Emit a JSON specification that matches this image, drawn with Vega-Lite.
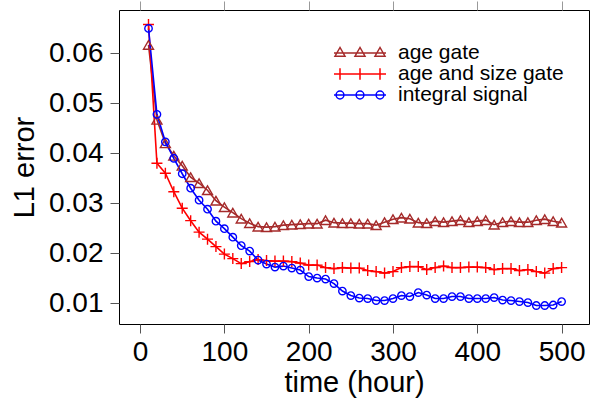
{
  "$schema": "https://vega.github.io/schema/vega-lite/v6.json",
  "width": 470,
  "height": 314,
  "autosize": "none",
  "padding": {"left": 119, "top": 10, "right": 2, "bottom": 76},
  "background": "white",
  "config": {
    "view": {"stroke": "#000", "strokeWidth": 1},
    "font": "Liberation Sans",
    "axis": {
      "grid": false, "domain": false, "tickColor": "#555", "tickSize": 9, "tickWidth": 1,
      "labelFont": "Liberation Sans", "labelFontSize": 28, "labelColor": "#000",
      "titleFont": "Liberation Sans", "titleFontSize": 29, "titleFontWeight": "normal", "titleColor": "#000"
    },
    "legend": {
      "labelFont": "Liberation Sans", "labelFontSize": 21, "labelColor": "#000", "labelLimit": 400
    }
  },
  "data": {"values": [
    {"t": 10, "age gate": 0.0617, "age and size gate": 0.0658, "integral signal": 0.0650},
    {"t": 20, "age gate": 0.0467, "age and size gate": 0.0380, "integral signal": 0.0478},
    {"t": 30, "age gate": 0.0420, "age and size gate": 0.0360, "integral signal": 0.0423},
    {"t": 40, "age gate": 0.0395, "age and size gate": 0.0323, "integral signal": 0.0390},
    {"t": 50, "age gate": 0.0375, "age and size gate": 0.0290, "integral signal": 0.0359},
    {"t": 60, "age gate": 0.0352, "age and size gate": 0.0265, "integral signal": 0.0330},
    {"t": 70, "age gate": 0.0340, "age and size gate": 0.0242, "integral signal": 0.0306},
    {"t": 80, "age gate": 0.0326, "age and size gate": 0.0228, "integral signal": 0.0288},
    {"t": 90, "age gate": 0.0305, "age and size gate": 0.0213, "integral signal": 0.0264},
    {"t": 100, "age gate": 0.0292, "age and size gate": 0.0198, "integral signal": 0.0249},
    {"t": 110, "age gate": 0.0281, "age and size gate": 0.0189, "integral signal": 0.0232},
    {"t": 120, "age gate": 0.0269, "age and size gate": 0.0179, "integral signal": 0.0215},
    {"t": 130, "age gate": 0.0260, "age and size gate": 0.0183, "integral signal": 0.0204},
    {"t": 140, "age gate": 0.0253, "age and size gate": 0.0187, "integral signal": 0.0186},
    {"t": 150, "age gate": 0.0252, "age and size gate": 0.0185, "integral signal": 0.0178},
    {"t": 160, "age gate": 0.0253, "age and size gate": 0.0184, "integral signal": 0.0172},
    {"t": 170, "age gate": 0.0256, "age and size gate": 0.0184, "integral signal": 0.0174},
    {"t": 180, "age gate": 0.0257, "age and size gate": 0.0183, "integral signal": 0.0170},
    {"t": 190, "age gate": 0.0258, "age and size gate": 0.0180, "integral signal": 0.0166},
    {"t": 200, "age gate": 0.0259, "age and size gate": 0.0176, "integral signal": 0.0153},
    {"t": 210, "age gate": 0.0259, "age and size gate": 0.0176, "integral signal": 0.0150},
    {"t": 220, "age gate": 0.0266, "age and size gate": 0.0171, "integral signal": 0.0148},
    {"t": 230, "age gate": 0.0261, "age and size gate": 0.0169, "integral signal": 0.0139},
    {"t": 240, "age gate": 0.0260, "age and size gate": 0.0171, "integral signal": 0.0124},
    {"t": 250, "age gate": 0.0260, "age and size gate": 0.0170, "integral signal": 0.0115},
    {"t": 260, "age gate": 0.0259, "age and size gate": 0.0170, "integral signal": 0.0110},
    {"t": 270, "age gate": 0.0259, "age and size gate": 0.0165, "integral signal": 0.0109},
    {"t": 280, "age gate": 0.0256, "age and size gate": 0.0163, "integral signal": 0.0105},
    {"t": 290, "age gate": 0.0262, "age and size gate": 0.0160, "integral signal": 0.0105},
    {"t": 300, "age gate": 0.0268, "age and size gate": 0.0163, "integral signal": 0.0109},
    {"t": 310, "age gate": 0.0271, "age and size gate": 0.0171, "integral signal": 0.0115},
    {"t": 320, "age gate": 0.0269, "age and size gate": 0.0173, "integral signal": 0.0113},
    {"t": 330, "age gate": 0.0261, "age and size gate": 0.0173, "integral signal": 0.0121},
    {"t": 340, "age gate": 0.0260, "age and size gate": 0.0167, "integral signal": 0.0116},
    {"t": 350, "age gate": 0.0264, "age and size gate": 0.0171, "integral signal": 0.0109},
    {"t": 360, "age gate": 0.0262, "age and size gate": 0.0174, "integral signal": 0.0109},
    {"t": 370, "age gate": 0.0264, "age and size gate": 0.0171, "integral signal": 0.0113},
    {"t": 380, "age gate": 0.0266, "age and size gate": 0.0171, "integral signal": 0.0113},
    {"t": 390, "age gate": 0.0262, "age and size gate": 0.0172, "integral signal": 0.0109},
    {"t": 400, "age gate": 0.0264, "age and size gate": 0.0172, "integral signal": 0.0109},
    {"t": 410, "age gate": 0.0266, "age and size gate": 0.0171, "integral signal": 0.0109},
    {"t": 420, "age gate": 0.0257, "age and size gate": 0.0167, "integral signal": 0.0111},
    {"t": 430, "age gate": 0.0262, "age and size gate": 0.0169, "integral signal": 0.0106},
    {"t": 440, "age gate": 0.0264, "age and size gate": 0.0169, "integral signal": 0.0105},
    {"t": 450, "age gate": 0.0262, "age and size gate": 0.0165, "integral signal": 0.0103},
    {"t": 460, "age gate": 0.0262, "age and size gate": 0.0167, "integral signal": 0.0101},
    {"t": 470, "age gate": 0.0266, "age and size gate": 0.0163, "integral signal": 0.0095},
    {"t": 480, "age gate": 0.0268, "age and size gate": 0.0160, "integral signal": 0.0095},
    {"t": 490, "age gate": 0.0264, "age and size gate": 0.0169, "integral signal": 0.0096},
    {"t": 500, "age gate": 0.0261, "age and size gate": 0.0171, "integral signal": 0.0103}
  ]},
  "transform": [{"fold": ["age gate", "age and size gate", "integral signal"], "as": ["series", "value"]}],
  "resolve": {"axis": {"x": "independent"}},
  "layer": [
    {
      "mark": {"type": "line", "strokeWidth": 1.6},
      "encoding": {
        "x": {"field": "t", "type": "quantitative", "scale": {"domain": [-25, 532.5], "nice": false, "zero": false},
          "axis": {"orient": "bottom", "title": "time (hour)", "values": [0, 100, 200, 300, 400, 500],
            "labelBaseline": "alphabetic", "labelPadding": 27, "labelFlush": false, "labelOverlap": false,
            "titleX": 235, "titleY": 67, "titleBaseline": "alphabetic", "titleAlign": "center"}},
        "y": {"field": "value", "type": "quantitative", "scale": {"domain": [0.0058, 0.0687], "nice": false, "zero": false},
          "axis": {"title": "L1 error", "values": [0.01, 0.02, 0.03, 0.04, 0.05, 0.06], "format": ".2f",
            "labelPadding": 7, "labelFlush": false, "labelOverlap": false,
            "titleX": -86, "titleY": 157, "titleAngle": -90, "titleBaseline": "alphabetic", "titleAlign": "center"}},
        "color": {"field": "series", "type": "nominal",
          "scale": {"domain": ["integral signal", "age and size gate", "age gate"], "range": ["#0000FF", "#FF0000", "#A52A2A"]},
          "legend": null}
      }
    },
    {
      "transform": [{"filter": "datum.series == 'age gate'"}],
      "mark": {"type": "point", "shape": "triangle-up", "filled": false, "size": 100, "strokeWidth": 1.4, "color": "#A52A2A", "opacity": 1},
      "encoding": {
        "x": {"field": "t", "type": "quantitative",
          "axis": {"orient": "top", "labels": false, "title": null, "values": [0, 100, 200, 300, 400, 500], "tickColor": "#999"}},
        "y": {"field": "value", "type": "quantitative"}
      }
    },
    {
      "transform": [{"filter": "datum.series == 'age and size gate'"}],
      "mark": {"type": "point", "shape": "M-1,0L1,0M0,-1L0,1", "filled": false, "size": 121, "strokeWidth": 1.4, "color": "#FF0000", "opacity": 1},
      "encoding": {
        "x": {"field": "t", "type": "quantitative", "axis": null},
        "y": {"field": "value", "type": "quantitative"}
      }
    },
    {
      "transform": [{"filter": "datum.series == 'integral signal'"}],
      "mark": {"type": "point", "shape": "circle", "filled": false, "size": 55, "strokeWidth": 1.4, "color": "#0000FF", "opacity": 1},
      "encoding": {
        "x": {"field": "t", "type": "quantitative", "axis": null},
        "y": {"field": "value", "type": "quantitative"}
      }
    },
    {
      "transform": [{"filter": "datum.t < 0"}],
      "mark": {"type": "point", "filled": false, "strokeWidth": 1.5},
      "encoding": {
        "x": {"field": "t", "type": "quantitative", "axis": null},
        "y": {"field": "value", "type": "quantitative"},
        "stroke": {"field": "series", "type": "nominal",
          "scale": {"domain": ["age gate", "age and size gate", "integral signal"], "range": ["#A52A2A", "#FF0000", "#0000FF"]},
          "legend": {"title": null, "orient": "none", "legendX": 230, "legendY": 32, "symbolSize": 400, "symbolStrokeWidth": 1.5,
            "labelOffset": 27, "rowPadding": -3, "padding": 0, "symbolOpacity": 1, "symbolOffset": 0}},
        "shape": {"field": "series", "type": "nominal",
          "scale": {"domain": ["age gate", "age and size gate", "integral signal"],
            "range": [
              "M-2.6,0L2.6,0M-2,-0.55L-2.5,0.32L-1.5,0.32ZM0,-0.55L-0.5,0.32L0.5,0.32ZM2,-0.55L1.5,0.32L2.5,0.32Z",
              "M-2.6,0L2.6,0M-2,-0.57L-2,0.57M0,-0.57L0,0.57M2,-0.57L2,0.57",
              "M-2.6,0L2.6,0M-2.39,0A0.39,0.39 0 1,1 -1.61,0A0.39,0.39 0 1,1 -2.39,0M-0.39,0A0.39,0.39 0 1,1 0.39,0A0.39,0.39 0 1,1 -0.39,0M1.61,0A0.39,0.39 0 1,1 2.39,0A0.39,0.39 0 1,1 1.61,0"
            ]},
          "legend": {"title": null, "orient": "none", "legendX": 230, "legendY": 32, "symbolSize": 400, "symbolStrokeWidth": 1.5,
            "labelOffset": 27, "rowPadding": -3, "padding": 0, "symbolOpacity": 1, "symbolOffset": 0}}
      }
    }
  ]
}
